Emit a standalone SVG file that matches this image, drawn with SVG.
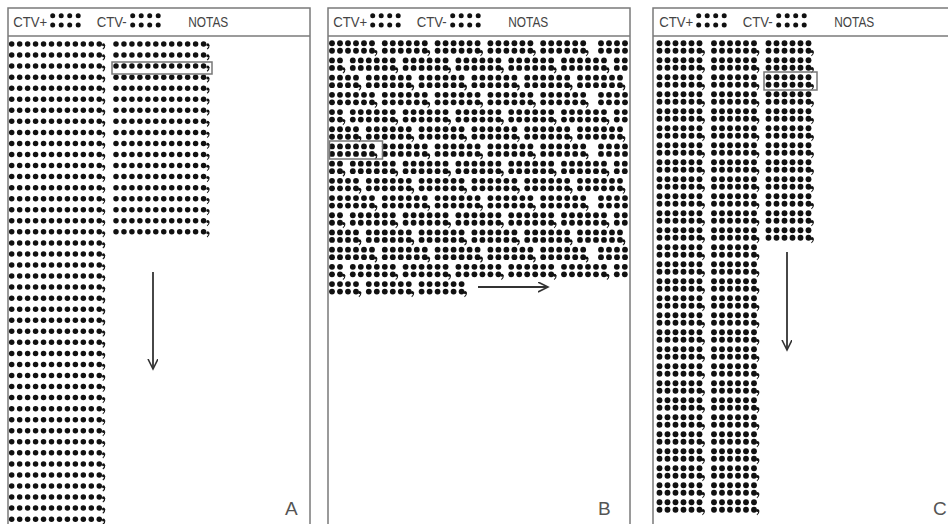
<svg xmlns="http://www.w3.org/2000/svg" xmlns:xlink="http://www.w3.org/1999/xlink" width="948" height="524" viewBox="0 0 948 524">
<style>
.frame{fill:#fff;stroke:#7a7a7a;stroke-width:1.5}
.div{stroke:#7a7a7a;stroke-width:1.5}
.hdr{font-family:"Liberation Sans",Arial,sans-serif;font-size:14px;fill:#444}
.lbl{font-family:"Liberation Sans",Arial,sans-serif;font-size:19px;fill:#555}
.dot{fill:#111}
.box{fill:none;stroke:#777;stroke-width:1.5}
.arr{stroke:#333;stroke-width:1.8;fill:none}
</style>
<defs>
<marker id="ah" markerUnits="userSpaceOnUse" markerWidth="12" markerHeight="12" refX="10" refY="5" orient="auto">
<path d="M0,0 L10,5 L0,10" fill="none" stroke="#333" stroke-width="1.6"/>
</marker>
<g id="cm" class="dot"><circle r="1.5"/><path d="M1.3,0.2 Q1.4,3 -0.7,4.3" stroke="#111" stroke-width="1.1" fill="none"/></g>
<g id="hd" class="dot">
<circle cx="0" cy="0" r="2.5"/><circle cx="8.5" cy="0" r="2.5"/><circle cx="17" cy="0" r="2.5"/><circle cx="25.5" cy="0" r="2.5"/>
<circle cx="0" cy="9.3" r="2.5"/><circle cx="8.5" cy="9.3" r="2.5"/><circle cx="17" cy="9.3" r="2.5"/><circle cx="25.5" cy="9.3" r="2.5"/>
</g>
<g id="ra" class="dot">
<circle cx="0" r="2.75"/><circle cx="7.96" r="2.75"/><circle cx="15.92" r="2.75"/><circle cx="23.88" r="2.75"/><circle cx="31.84" r="2.75"/><circle cx="39.8" r="2.75"/><circle cx="47.76" r="2.75"/><circle cx="55.72" r="2.75"/><circle cx="63.68" r="2.75"/><circle cx="71.64" r="2.75"/><circle cx="79.6" r="2.75"/><circle cx="87.56" r="2.75"/>
<use href="#cm" x="91.8" y="0.8"/>
</g>
<g id="c2" class="dot">
<circle cx="0" cy="-3.75" r="2.9"/><circle cx="8" cy="-3.75" r="2.9"/>
<circle cx="0" cy="3.75" r="2.9"/><circle cx="8" cy="3.75" r="2.9"/>
</g>
<g id="c4"><use href="#c2"/><use href="#c2" x="16"/></g>
<g id="c6"><use href="#c2"/><use href="#c2" x="16"/><use href="#c2" x="32"/></g>
<g id="g6c"><use href="#c6"/><use href="#cm" x="43.6" y="4.6"/></g>
<g id="g4c"><use href="#c4"/><use href="#cm" x="27.6" y="4.6"/></g>
<g id="g2c"><use href="#c2"/><use href="#cm" x="11.6" y="4.6"/></g>
<g id="L1"><use href="#g6c" x="332"/><use href="#g6c" x="384.8"/><use href="#g6c" x="437.6"/><use href="#g6c" x="490.4"/><use href="#g6c" x="543.2"/><use href="#c4" x="601"/></g>
<g id="L2"><use href="#g2c" x="332"/><use href="#g6c" x="352.8"/><use href="#g6c" x="405.6"/><use href="#g6c" x="458.4"/><use href="#g6c" x="511.2"/><use href="#g6c" x="564"/><use href="#c2" x="616.8"/></g>
<g id="L3"><use href="#g4c" x="332"/><use href="#g6c" x="368.8"/><use href="#g6c" x="421.6"/><use href="#g6c" x="474.4"/><use href="#g6c" x="527.2"/><use href="#g6c" x="580"/></g>
<g id="C3"><use href="#g6c" x="659.5"/><use href="#g6c" x="714"/><use href="#g6c" x="768.5"/></g>
<g id="C2"><use href="#g6c" x="659.5"/><use href="#g6c" x="714"/></g>
</defs>

<g id="panelA">
<rect class="frame" x="8" y="8" width="302" height="540"/>
<line class="div" x1="8" y1="36" x2="310" y2="36"/>
<text class="hdr" x="13.3" y="27.3" textLength="34" lengthAdjust="spacingAndGlyphs">CTV+</text>
<use href="#hd" x="52.7" y="15.7"/>
<text class="hdr" x="96.7" y="27.3" textLength="30" lengthAdjust="spacingAndGlyphs">CTV-</text>
<use href="#hd" x="132.7" y="15.7"/>
<text class="hdr" x="188.3" y="27.3" textLength="40" lengthAdjust="spacingAndGlyphs">NOTAS</text>
<g id="A-col1">
<use href="#ra" x="11.7" y="44"/><use href="#ra" x="11.7" y="55.05"/><use href="#ra" x="11.7" y="66.1"/><use href="#ra" x="11.7" y="77.15"/><use href="#ra" x="11.7" y="88.2"/><use href="#ra" x="11.7" y="99.25"/><use href="#ra" x="11.7" y="110.3"/><use href="#ra" x="11.7" y="121.35"/><use href="#ra" x="11.7" y="132.4"/><use href="#ra" x="11.7" y="143.45"/><use href="#ra" x="11.7" y="154.5"/><use href="#ra" x="11.7" y="165.55"/><use href="#ra" x="11.7" y="176.6"/><use href="#ra" x="11.7" y="187.65"/><use href="#ra" x="11.7" y="198.7"/><use href="#ra" x="11.7" y="209.75"/><use href="#ra" x="11.7" y="220.8"/><use href="#ra" x="11.7" y="231.85"/><use href="#ra" x="11.7" y="242.9"/><use href="#ra" x="11.7" y="253.95"/><use href="#ra" x="11.7" y="265"/><use href="#ra" x="11.7" y="276.05"/><use href="#ra" x="11.7" y="287.1"/><use href="#ra" x="11.7" y="298.15"/><use href="#ra" x="11.7" y="309.2"/><use href="#ra" x="11.7" y="320.25"/><use href="#ra" x="11.7" y="331.3"/><use href="#ra" x="11.7" y="342.35"/><use href="#ra" x="11.7" y="353.4"/><use href="#ra" x="11.7" y="364.45"/><use href="#ra" x="11.7" y="375.5"/><use href="#ra" x="11.7" y="386.55"/><use href="#ra" x="11.7" y="397.6"/><use href="#ra" x="11.7" y="408.65"/><use href="#ra" x="11.7" y="419.7"/><use href="#ra" x="11.7" y="430.75"/><use href="#ra" x="11.7" y="441.8"/><use href="#ra" x="11.7" y="452.85"/><use href="#ra" x="11.7" y="463.9"/><use href="#ra" x="11.7" y="474.95"/><use href="#ra" x="11.7" y="486"/><use href="#ra" x="11.7" y="497.05"/><use href="#ra" x="11.7" y="508.1"/><use href="#ra" x="11.7" y="519.15"/>
</g>
<g id="A-col2">
<use href="#ra" x="116" y="44"/><use href="#ra" x="116" y="55.05"/><use href="#ra" x="116" y="66.1"/><use href="#ra" x="116" y="77.15"/><use href="#ra" x="116" y="88.2"/><use href="#ra" x="116" y="99.25"/><use href="#ra" x="116" y="110.3"/><use href="#ra" x="116" y="121.35"/><use href="#ra" x="116" y="132.4"/><use href="#ra" x="116" y="143.45"/><use href="#ra" x="116" y="154.5"/><use href="#ra" x="116" y="165.55"/><use href="#ra" x="116" y="176.6"/><use href="#ra" x="116" y="187.65"/><use href="#ra" x="116" y="198.7"/><use href="#ra" x="116" y="209.75"/><use href="#ra" x="116" y="220.8"/><use href="#ra" x="116" y="231.85"/>
</g>
<rect class="box" x="112" y="62" width="100" height="12"/>
<text class="lbl" x="285" y="515">A</text>
</g>

<g id="panelB">
<rect class="frame" x="328" y="8" width="302" height="540"/>
<line class="div" x1="328" y1="36" x2="630" y2="36"/>
<text class="hdr" x="333.3" y="27.3" textLength="34" lengthAdjust="spacingAndGlyphs">CTV+</text>
<use href="#hd" x="372.7" y="15.7"/>
<text class="hdr" x="416.7" y="27.3" textLength="30" lengthAdjust="spacingAndGlyphs">CTV-</text>
<use href="#hd" x="452.7" y="15.7"/>
<text class="hdr" x="508.3" y="27.3" textLength="40" lengthAdjust="spacingAndGlyphs">NOTAS</text>
<g id="B-text">
<use href="#L1" y="47"/><use href="#L2" y="64.2"/><use href="#L3" y="81.4"/>
<use href="#L1" y="98.6"/><use href="#L2" y="115.8"/><use href="#L3" y="133"/>
<use href="#L1" y="150.2"/><use href="#L2" y="167.4"/><use href="#L3" y="184.6"/>
<use href="#L1" y="201.8"/><use href="#L2" y="219"/><use href="#L3" y="236.2"/>
<use href="#L1" y="253.4"/><use href="#L2" y="270.6"/>
<use href="#g4c" x="332" y="287.8"/><use href="#g6c" x="368.8" y="287.8"/><use href="#g6c" x="421.6" y="287.8"/>
</g>
<rect class="box" x="329.5" y="141" width="53" height="18"/>
<text class="lbl" x="598" y="515">B</text>
</g>

<g id="panelC">
<rect class="frame" x="653" y="8" width="310" height="540"/>
<line class="div" x1="653" y1="36" x2="963" y2="36"/>
<text class="hdr" x="659.3" y="27.3" textLength="34" lengthAdjust="spacingAndGlyphs">CTV+</text>
<use href="#hd" x="698.7" y="15.7"/>
<text class="hdr" x="742.7" y="27.3" textLength="30" lengthAdjust="spacingAndGlyphs">CTV-</text>
<use href="#hd" x="778.7" y="15.7"/>
<text class="hdr" x="834.3" y="27.3" textLength="40" lengthAdjust="spacingAndGlyphs">NOTAS</text>
<g id="C-text">
<use href="#C3" y="47"/><use href="#C3" y="64"/><use href="#C3" y="81"/><use href="#C3" y="98"/><use href="#C3" y="115"/><use href="#C3" y="132"/><use href="#C3" y="149"/><use href="#C3" y="166"/><use href="#C3" y="183"/><use href="#C3" y="200"/><use href="#C3" y="217"/><use href="#C3" y="234"/>
<use href="#C2" y="251"/><use href="#C2" y="268"/><use href="#C2" y="285"/><use href="#C2" y="302"/><use href="#C2" y="319"/><use href="#C2" y="336"/><use href="#C2" y="353"/><use href="#C2" y="370"/><use href="#C2" y="387"/><use href="#C2" y="404"/><use href="#C2" y="421"/><use href="#C2" y="438"/><use href="#C2" y="455"/><use href="#C2" y="472"/><use href="#C2" y="489"/><use href="#C2" y="506"/>
</g>
<rect class="box" x="764" y="72" width="53" height="18"/>
<text class="lbl" x="933" y="515">C</text>
</g>

<g id="connectors">
<line class="arr" x1="153" y1="272" x2="153" y2="369" marker-end="url(#ah)"/>
<line class="arr" x1="478" y1="287" x2="548" y2="287" marker-end="url(#ah)"/>
<line class="arr" x1="787" y1="252" x2="787" y2="350" marker-end="url(#ah)"/>
</g>
</svg>
